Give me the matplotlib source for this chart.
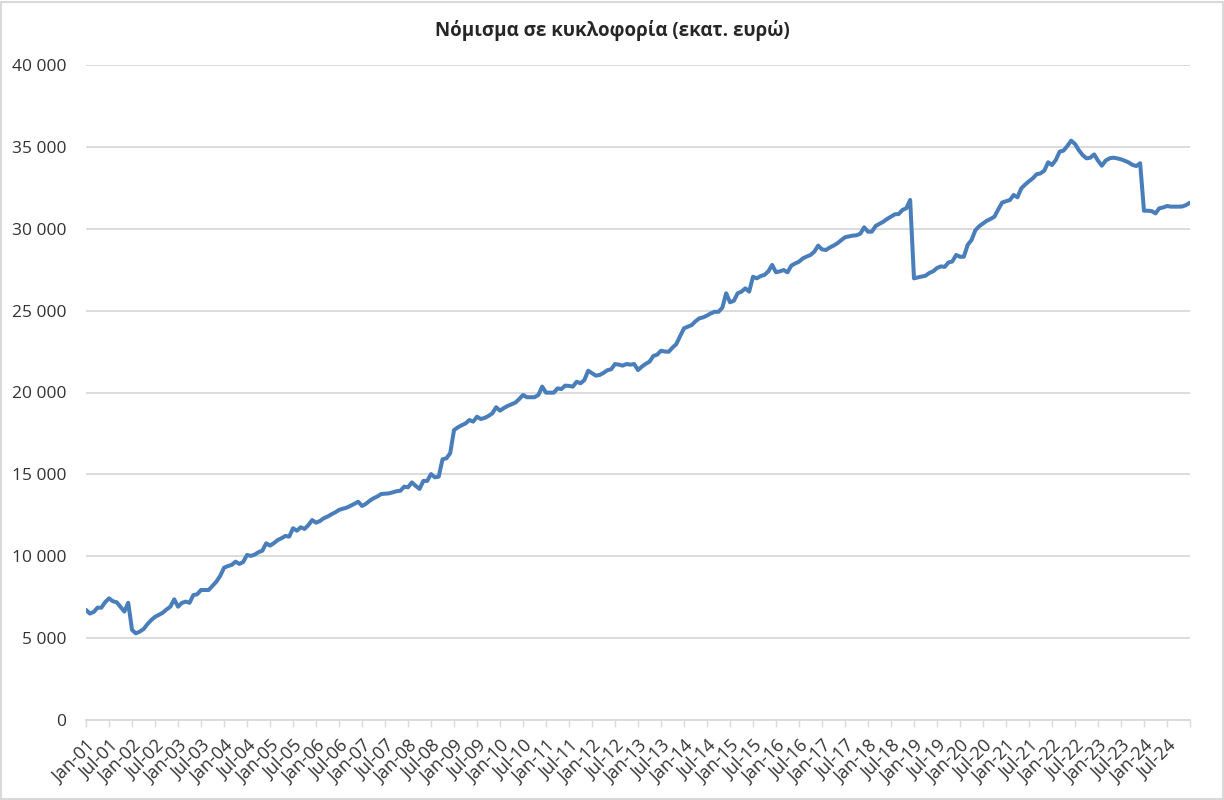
import pandas as pd
import matplotlib.pyplot as plt
from matplotlib.patches import Rectangle
from matplotlib.ticker import FuncFormatter

# monthly currency in circulation, million euro, Jan-2001 .. Jan-2025
months = pd.date_range('2001-01-01', periods=289, freq='MS')

values = [
    6720, 6500, 6600, 6860, 6860, 7200, 7430, 7250, 7190, 6900, 6620, 7160,
    5500, 5290, 5400, 5550, 5850, 6100, 6300, 6420, 6550, 6750, 6920, 7370,
    6920, 7150, 7230, 7160, 7630, 7680, 7940, 7940, 7940, 8200, 8450, 8800,
    9300, 9400, 9470, 9670, 9530, 9650, 10080, 10020, 10100, 10250, 10340, 10790,
    10650, 10800, 10990, 11100, 11240, 11200, 11710, 11560, 11770, 11670, 11900, 12210,
    12050, 12150, 12320, 12420, 12560, 12680, 12830, 12900, 12970, 13080, 13200, 13330,
    13070, 13200, 13390, 13540, 13650, 13800, 13820, 13840, 13900, 13970, 14000, 14250,
    14210, 14510, 14300, 14110, 14600, 14600, 15020, 14820, 14860, 15920, 15980, 16290,
    17710, 17870, 18000, 18110, 18320, 18220, 18520, 18380, 18450, 18570, 18730, 19100,
    18890, 19050, 19180, 19280, 19380, 19600, 19850, 19710, 19710, 19710, 19850, 20360,
    19990, 19990, 19990, 20250, 20210, 20420, 20400, 20360, 20660, 20560, 20760, 21330,
    21180, 21030, 21070, 21200, 21360, 21420, 21740, 21700, 21640, 21740, 21700, 21740,
    21370, 21580, 21750, 21880, 22230, 22310, 22550, 22500, 22490, 22740, 22960, 23450,
    23920, 24020, 24120, 24350, 24530, 24590, 24700, 24830, 24930, 24930, 25180, 26060,
    25510, 25600, 26060, 26160, 26360, 26160, 27070, 26970, 27110, 27180, 27400, 27790,
    27340, 27400, 27480, 27340, 27750, 27880, 27990, 28190, 28300, 28400, 28600, 28970,
    28740, 28700, 28850, 28970, 29110, 29300, 29480, 29530, 29580, 29600, 29700, 30090,
    29820, 29820, 30170, 30300, 30430, 30600, 30740, 30880, 30900, 31150, 31250, 31760,
    26970, 27030, 27080, 27130, 27300, 27400, 27600, 27700, 27670, 27940, 28000, 28400,
    28290, 28290, 29010, 29310, 29900, 30150, 30320, 30490, 30600, 30740, 31190, 31600,
    31680, 31750, 32060, 31920, 32470, 32700, 32900, 33080, 33330, 33380, 33550, 34060,
    33890, 34200, 34710, 34770, 35050, 35380, 35180, 34800, 34500, 34300, 34340, 34540,
    34160, 33850, 34160, 34300, 34340, 34300, 34240, 34150, 34050, 33900, 33830, 34000,
    31100, 31100, 31080, 30940, 31250, 31300, 31390, 31350, 31350, 31350, 31360, 31450,
    31590,
]

month_labels = [m.strftime('%b-%y') for m in months]
y_ticks = [0, 5000, 10000, 15000, 20000, 25000, 30000, 35000, 40000]

plt.rcParams['font.family'] = ['Open Sans', 'DejaVu Sans']

fig = plt.figure(figsize=(12.24, 8), dpi=100)
ax = fig.add_axes([0.0703, 0.1, 0.9019, 0.81875])

x = list(range(len(values)))
ax.plot(x, values, color='#4A7EBB', lw=2.9, solid_joinstyle='round',
        solid_capstyle='round', zorder=3)

ax.set_xlim(0, len(values) - 1)
ax.set_ylim(0, 40000)
ax.set_yticks(y_ticks)
ax.yaxis.set_major_formatter(FuncFormatter(lambda v, p: f'{int(v):,}'.replace(',', ' ')))
ax.grid(axis='y', color='#D9D9D9', lw=1.3)
ax.set_axisbelow(True)

tick_pos = list(range(0, len(values), 6))
ax.set_xticks(tick_pos)
ax.set_xticklabels([month_labels[i] if i < 288 else '' for i in tick_pos],
                   rotation=45, ha='right', rotation_mode='anchor')

for s in ['top', 'right', 'left']:
    ax.spines[s].set_visible(False)
ax.spines['bottom'].set_color('#D9D9D9')
ax.spines['bottom'].set_linewidth(1.3)

ax.tick_params(axis='y', length=0, pad=14, labelsize=12.5, labelcolor='#333333')
ax.tick_params(axis='x', length=5, width=1, color='#D9D9D9', pad=7,
               labelsize=13, labelcolor='#333333')

fig.text(0.5, 0.962, 'Νόμισμα σε κυκλοφορία (εκατ. ευρώ)', ha='center', va='center',
         fontsize=13.5, fontweight='bold', color='#262626')

fig.patches.append(Rectangle((0.001, 0.001), 0.998, 0.997, transform=fig.transFigure,
                             fill=False, edgecolor='#D9D9D9', lw=1.5))

fig.savefig('out.png', dpi=100, facecolor='white')
